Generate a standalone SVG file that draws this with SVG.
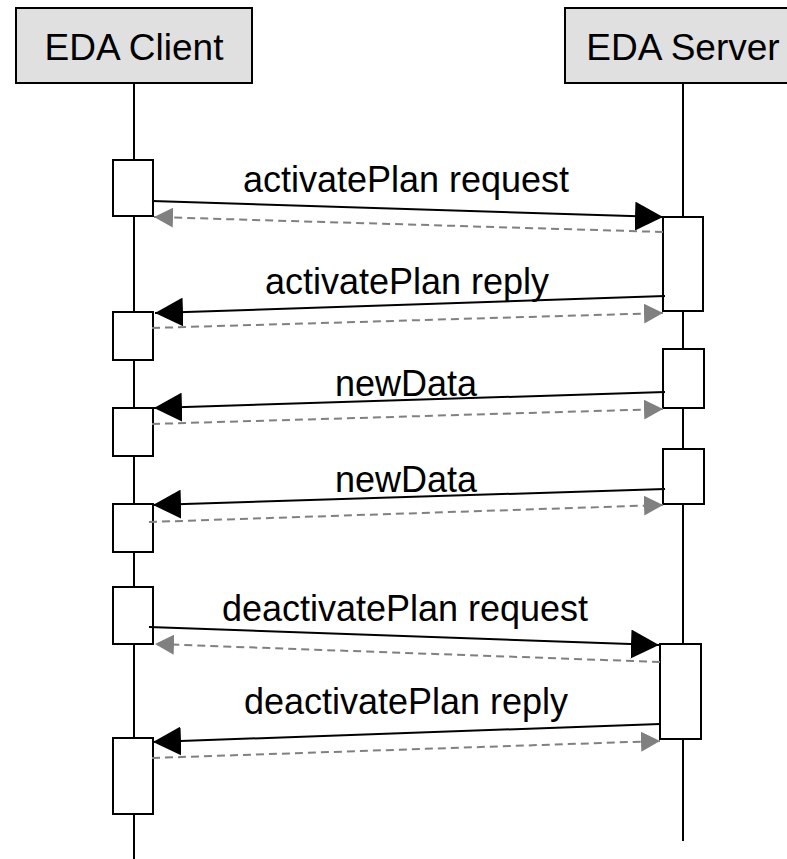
<svg xmlns="http://www.w3.org/2000/svg" width="787" height="859" viewBox="0 0 787 859">
  <style>
    .head { fill: #e0e0e0; stroke: #000; stroke-width: 2; }
    .head-text { font-family: "Liberation Sans", Arial, sans-serif; font-size: 37px; fill: #000; text-anchor: middle; }
    .life { stroke: #000; stroke-width: 2; }
    .act { fill: #fff; stroke: #000; stroke-width: 2; }
    .msg { stroke: #000; stroke-width: 2; fill: none; marker-end: url(#solidHead); }
    .ret { stroke: #808080; stroke-width: 2; fill: none; stroke-dasharray: 8 5; marker-end: url(#grayHead); }
    .label { font-family: "Liberation Sans", Arial, sans-serif; font-size: 36px; fill: #000; text-anchor: middle; }
  </style>
  <defs>
    <marker id="solidHead" viewBox="0 0 28 29" refX="28" refY="14.5" markerWidth="28" markerHeight="29" markerUnits="userSpaceOnUse" orient="auto">
      <path d="M0,0 L28,14.5 L0,29 Z" fill="#000"/>
    </marker>
    <marker id="grayHead" viewBox="0 0 19 20" refX="19" refY="10" markerWidth="19" markerHeight="20" markerUnits="userSpaceOnUse" orient="auto">
      <path d="M0,0 L19,10 L0,20 Z" fill="#808080"/>
    </marker>
  </defs>

  <rect width="787" height="859" fill="#fff"/>

  <!-- EDA Client lifeline -->
  <g id="client">
    <line class="life" x1="134" y1="83" x2="134" y2="859"/>
    <rect class="head" x="16" y="8" width="236" height="75"/>
    <text class="head-text" x="134" y="60">EDA Client</text>
    <rect class="act" x="113" y="160" width="40" height="56"/>
    <rect class="act" x="113" y="312" width="40" height="48"/>
    <rect class="act" x="113" y="408" width="40" height="48"/>
    <rect class="act" x="113" y="504" width="40" height="48"/>
    <rect class="act" x="113" y="587" width="40" height="57"/>
    <rect class="act" x="113" y="738" width="40" height="76"/>
  </g>

  <!-- EDA Server lifeline -->
  <g id="server">
    <line class="life" x1="683" y1="83" x2="683" y2="841"/>
    <rect class="head" x="565" y="8" width="240" height="75"/>
    <text class="head-text" x="683" y="60">EDA Server</text>
    <rect class="act" x="663" y="217" width="40" height="94"/>
    <rect class="act" x="663" y="349" width="41" height="59"/>
    <rect class="act" x="663" y="449" width="41" height="55"/>
    <rect class="act" x="660" y="644" width="41" height="95"/>
  </g>

  <!-- messages and their acknowledgements -->
  <g id="connectors">
    <line class="msg" x1="152" y1="201" x2="663" y2="217"/>
    <line class="ret" x1="663" y1="232" x2="154" y2="217"/>

    <line class="msg" x1="665" y1="296" x2="155" y2="313"/>
    <line class="ret" x1="152" y1="328" x2="663" y2="313"/>

    <line class="msg" x1="665" y1="392" x2="154" y2="408"/>
    <line class="ret" x1="152" y1="424" x2="663" y2="409"/>

    <line class="msg" x1="665" y1="489" x2="153" y2="505"/>
    <line class="ret" x1="149" y1="522" x2="663" y2="505"/>

    <line class="msg" x1="149" y1="627" x2="659" y2="645"/>
    <line class="ret" x1="660" y1="662" x2="155" y2="644"/>

    <line class="msg" x1="660" y1="724" x2="153" y2="742"/>
    <line class="ret" x1="152" y1="758" x2="660" y2="741"/>
  </g>

  <g id="labels">
    <text class="label" x="406" y="192">activatePlan request</text>
    <text class="label" x="407" y="294">activatePlan reply</text>
    <text class="label" x="406" y="396">newData</text>
    <text class="label" x="406" y="492">newData</text>
    <text class="label" x="405" y="621">deactivatePlan request</text>
    <text class="label" x="406" y="714">deactivatePlan reply</text>
  </g>
</svg>
